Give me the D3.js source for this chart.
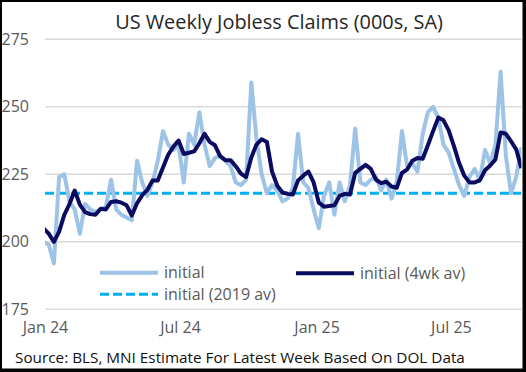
<!DOCTYPE html>
<html><head><meta charset="utf-8">
<script src="https://cdn.jsdelivr.net/npm/d3@7"></script>
<style>
html,body{margin:0;padding:0;background:#fff;}
svg{display:block;}
text{font-family:"Open Sans","Noto Sans",sans-serif;}
</style></head>
<body>
<script>
// ---- data ----
const firstWeek = "2023-12-30"; // weeks ending Saturday
const initial = [200,199,192,224,225,215,212,203,214,212,211,212,213,223,212,210,209,208,230,222,
217,222,230,241,236,234,236,222,240,236,248,236,228,231,232,230,228,222,221,223,
259,238,225,218,221,219,215,216,220,240,222,220,212,205,217,222,210,222,215,221,
242,222,221,223,224,219,223,216,222,241,228,229,226,240,248,250,246,236,233,227,
221,217,224,227,223,234,229,236,263,232,218,224,235];
const avg4wk = [205,203,200,203.75,210,214,219,213.75,211,210.25,210,212.25,212,214.75,215,214.5,213.5,209.75,214.25,217.25,
219.25,222.75,222.75,227.5,232.25,235.25,237.5,232.5,233,233.5,236.5,240,237,235.75,231.75,230.25,230.25,228,225.25,224,
231.25,236,238,237,226,220.75,218.25,217.75,217.5,222.75,224.5,226,222,214.5,213,213.25,213.5,217,217.75,217.5,
225.5,227,228.5,227,223,221.75,222.25,220.5,220,225.5,226.75,230,231,230.75,235.75,241,246,245,241.25,235.5,
229.25,224.5,222,222,222.75,226.5,228.25,230.5,240.5,240,237.25,234.25,227.25];
const avg2019 = 218;
const yTicks = [175,200,225,250,275];
const xTickDates = ["2024-01-01","2024-07-01","2025-01-01","2025-07-01"];
const xTickLabels = ["Jan 24","Jul 24","Jan 25","Jul 25"];
const seriesNames = ["initial","initial (4wk av)","initial (2019 av)"];
const titleText = "US Weekly Jobless Claims (000s, SA)";
const sourceText = "Source: BLS, MNI Estimate For Latest Week Based On DOL Data";

// ---- setup ----
const W = 526, H = 372;
const parse = d3.utcParse("%Y-%m-%d");
const start = parse(firstWeek);
const dates = initial.map((_, i) => d3.utcDay.offset(start, 7 * i));
const rows = dates.map((d, i) => ({date: d, initial: initial[i], avg: avg4wk[i]}));

const x = d3.scaleUtc().domain([parse("2024-01-01"), parse("2025-10-04")]).range([45, 521.4]);
const y = d3.scaleLinear().domain([175, 275]).range([309.3, 39.3]);

const svg = d3.select("body").append("svg").attr("width", W).attr("height", H);

// frame
svg.append("rect").attr("x",0).attr("y",0).attr("width",W).attr("height",H).attr("fill","#000");
svg.append("rect").attr("x",2).attr("y",2).attr("width",520.5).attr("height",366.5).attr("fill","#fff");

// gridlines
svg.append("g").selectAll("line").data(yTicks).join("line")
  .attr("x1", 45).attr("x2", 521.4)
  .attr("y1", d => y(d)).attr("y2", d => y(d))
  .attr("stroke", "#d9d9d9").attr("stroke-width", 1.5);

// y axis labels
const yAxis = svg.append("g").attr("transform", "translate(29,0)")
  .call(d3.axisLeft(y).tickValues(yTicks).tickSize(0).tickPadding(0).tickFormat(d3.format("d")));
yAxis.select(".domain").remove();
yAxis.selectAll("text").attr("font-size", 16).attr("fill", "#595959")
  .attr("font-family", '"Open Sans","Noto Sans",sans-serif');

// x axis labels
const xAxis = svg.append("g").attr("transform", "translate(0,322)")
  .call(d3.axisBottom(x).tickValues(xTickDates.map(parse)).tickSize(0).tickPadding(0)
    .tickFormat((d, i) => xTickLabels[i]));
xAxis.select(".domain").remove();
xAxis.selectAll("text").attr("font-size", 16).attr("fill", "#595959")
  .attr("font-family", '"Open Sans","Noto Sans",sans-serif');

// clip
svg.append("clipPath").attr("id","plotclip").append("rect")
  .attr("x", 45).attr("y", 0).attr("width", 476.4).attr("height", H);
const plot = svg.append("g").attr("clip-path","url(#plotclip)");

// 2019 average dashed
plot.append("line")
  .attr("x1", x.range()[0]).attr("x2", x.range()[1])
  .attr("y1", y(avg2019)).attr("y2", y(avg2019))
  .attr("stroke", "#00b0f0").attr("stroke-width", 3).attr("stroke-dasharray", "9,4");

const lightColor = "#9dc3e6", darkColor = "#0b0b62";
plot.append("path").datum(rows)
  .attr("d", d3.line().x(d => x(d.date)).y(d => y(d.initial)))
  .attr("fill","none").attr("stroke", lightColor).attr("stroke-width", 4)
  .attr("stroke-linejoin","round");
plot.append("path").datum(rows)
  .attr("d", d3.line().x(d => x(d.date)).y(d => y(d.avg)))
  .attr("fill","none").attr("stroke", darkColor).attr("stroke-width", 4)
  .attr("stroke-linejoin","round");

// legend
const leg = [
  {name: seriesNames[0], x: 100, y: 272.7, color: lightColor, dash: null, w: 4},
  {name: seriesNames[1], x: 296, y: 273.3, color: darkColor, dash: null, w: 4},
  {name: seriesNames[2], x: 100, y: 294.3, color: "#00b0f0", dash: "9,4", w: 3}
];
const lg = svg.append("g").selectAll("g").data(leg).join("g");
lg.append("line").attr("x1", d => d.x).attr("x2", d => d.x + 58)
  .attr("y1", d => d.y).attr("y2", d => d.y)
  .attr("stroke", d => d.color).attr("stroke-width", d => d.w)
  .attr("stroke-dasharray", d => d.dash);
lg.append("text").attr("x", d => d.x + 64).attr("y", d => d.y).attr("dy","0.35em")
  .attr("font-size", 16).attr("fill", "#595959").text(d => d.name);

// title & source
function fit(sel, target) {
  const w = sel.node().getComputedTextLength();
  const fs = +sel.attr("font-size");
  sel.attr("font-size", fs * target / w);
}
const title = svg.append("text").attr("x", 279).attr("y", 28.5).attr("text-anchor","middle")
  .attr("font-size", 20).attr("fill","#262626").text(titleText);
fit(title, 328);
const src = svg.append("text").attr("x", 15).attr("y", 363).attr("font-size", 16)
  .attr("fill","#111").text(sourceText);
fit(src, 450);
</script>
</body></html>
